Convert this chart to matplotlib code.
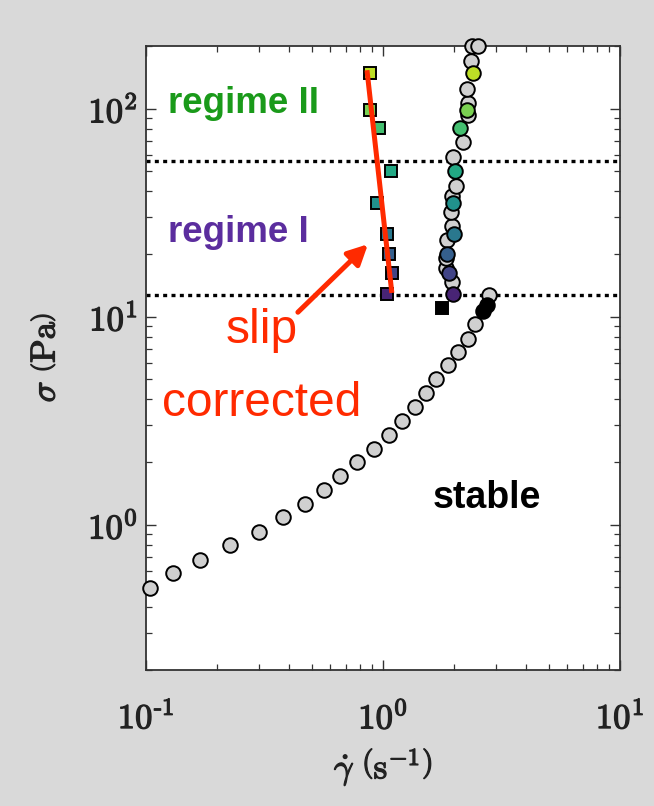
import numpy as np
import matplotlib
matplotlib.use("Agg")
import matplotlib.pyplot as plt
import matplotlib.patheffects as pe

plt.rcParams["mathtext.fontset"] = "cm"

# Flow curve, stable (lower) branch: shear rate (1/s), stress (Pa)
low_rate = [0.104, 0.1296, 0.1697, 0.2268, 0.2989, 0.3775, 0.4673, 0.562, 0.6586,
            0.779, 0.919, 1.063, 1.203, 1.369, 1.519, 1.674, 1.875, 2.078, 2.284,
            2.452, 2.79]
low_stress = [0.497, 0.584, 0.677, 0.796, 0.918, 1.084, 1.252, 1.472, 1.706,
              1.991, 2.317, 2.684, 3.133, 3.673, 4.302, 5.006, 5.864, 6.792, 7.816,
              9.226, 12.71]

# Upper branch, uncoloured points
up_rate = [1.955, 1.845, 1.845, 1.862, 1.955, 1.936, 1.955, 2.03, 1.974, 2.176,
           2.284, 2.284, 2.26, 2.35, 2.375, 2.517]
up_stress = [14.68, 17.1, 19.1, 23.3, 27.3, 31.8, 38.0, 42.4, 58.4, 69.0,
             93.0, 107.0, 124.0, 169.0, 201.0, 201.0]

# Imposed stress levels (coloured) with apparent and slip-corrected rates
levels = [12.9, 16.2, 19.9, 25.0, 35.0, 50.4, 80.3, 99.0, 149.0]
apparent_rate = [1.98, 1.90, 1.86, 1.99, 1.98, 2.01, 2.11, 2.27, 2.39]
corrected_rate = [1.04, 1.09, 1.06, 1.04, 0.943, 1.081, 0.962, 0.881, 0.881]

# Onset points
onset_rate = [2.65, 2.74]
onset_stress = [10.69, 11.38]
onset_sq_rate = [1.77]
onset_sq_stress = [11.0]

# Slip-corrected trend line end points
fit_rate = [0.856, 1.09]
fit_stress = [153.0, 13.0]

# Regime boundaries (Pa)
boundaries = [12.7, 55.8]

bg = "#d9d9d9"
ink = "#222222"
bold_fx = [pe.withStroke(linewidth=0.9, foreground=ink)]

fig = plt.figure(figsize=(6.54, 8.06), dpi=100, facecolor=bg)
ax = fig.add_axes([0.2232, 0.1687, 0.7248, 0.7742])
ax.set_xscale("log")
ax.set_yscale("log")
ax.set_xlim(0.1, 10)
ax.set_ylim(0.2, 200)

colors = plt.cm.viridis(np.linspace(0.1, 0.9, len(levels)))
ms_c = 10.5
ms_s = 8.5
ew = 1.4

for yb in boundaries:
    ax.axhline(yb, color="black", lw=2.4, ls=(0, (1.2, 1.3)), zorder=2)

ax.plot(low_rate, low_stress, "o", ms=ms_c, mfc="#d0d0d0", mec="black", mew=ew,
        clip_on=False, zorder=3)
ax.plot(up_rate, up_stress, "o", ms=ms_c, mfc="#d0d0d0", mec="black", mew=ew,
        clip_on=False, zorder=3)
ax.plot(onset_rate, onset_stress, "o", ms=ms_c, mfc="black", mec="black", mew=ew,
        clip_on=False, zorder=3)
ax.plot(onset_sq_rate, onset_sq_stress, "s", ms=ms_s, mfc="black", mec="black",
        mew=ew, clip_on=False, zorder=3)

for r, s, c in zip(apparent_rate, levels, colors):
    ax.plot([r], [s], "o", ms=ms_c, mfc=c, mec="black", mew=ew, clip_on=False, zorder=4)
for r, s, c in zip(corrected_rate, levels, colors):
    ax.plot([r], [s], "s", ms=ms_s, mfc=c, mec="black", mew=ew, clip_on=False, zorder=4)

ax.plot(fit_rate, fit_stress, color="#ff2a00", lw=3.6, solid_capstyle="butt", zorder=5)

ax.annotate("", xy=(0.8644, 22.3), xytext=(0.4375, 10.5),
            arrowprops=dict(arrowstyle="-|>,head_length=1.2,head_width=0.6",
                            color="#ff2a00", lw=3.6, shrinkA=0, shrinkB=0),
            zorder=5)

ax.text(0.124, 106, "regime II", color="#1a9a1a", fontsize=26.5, fontweight="bold",
        family="Liberation Sans", va="center", ha="left")
ax.text(0.124, 25.5, "regime I", color="#5b2d9e", fontsize=26.5, fontweight="bold",
        family="Liberation Sans", va="center", ha="left")
ax.text(2.75, 1.35, "stable", color="black", fontsize=27, fontweight="bold",
        family="Liberation Sans", va="center", ha="center")
ax.text(0.309, 5.73, "slip\ncorrected", color="#ff2a00", fontsize=34.5,
        family="Liberation Sans", va="center", ha="center", linespacing=1.8)

ax.set_xticks([0.1, 1, 10])
ax.set_xticklabels([r"$10^{\text{-}1}$", r"$10^{0}$", r"$10^{1}$"])
ax.set_yticks([1, 10, 100])
ax.set_yticklabels([r"$10^{0}$", r"$10^{1}$", r"$10^{2}$"])
ax.tick_params(which="both", direction="in", top=True, right=True, colors="#333333",
               labelcolor=ink)
ax.tick_params(which="major", length=7, width=1.0, labelsize=25)
ax.tick_params(axis="x", which="major", pad=22)
ax.tick_params(axis="y", which="major", pad=6)
ax.tick_params(which="minor", length=4, width=0.9)
for lab in ax.get_xticklabels() + ax.get_yticklabels():
    lab.set_path_effects(bold_fx)
for sp in ax.spines.values():
    sp.set_color("#333333")
    sp.set_linewidth(1.3)

ax.set_xlabel(r"$\dot{\gamma}\ \left(\mathrm{s}^{-1}\right)$", fontsize=25,
              color=ink, labelpad=8, path_effects=bold_fx)
ax.set_ylabel(r"$\sigma\ \left(\mathrm{Pa}\right)$", fontsize=25, color=ink,
              labelpad=19, path_effects=bold_fx)

fig.savefig("out.png", dpi=100, facecolor=bg)
